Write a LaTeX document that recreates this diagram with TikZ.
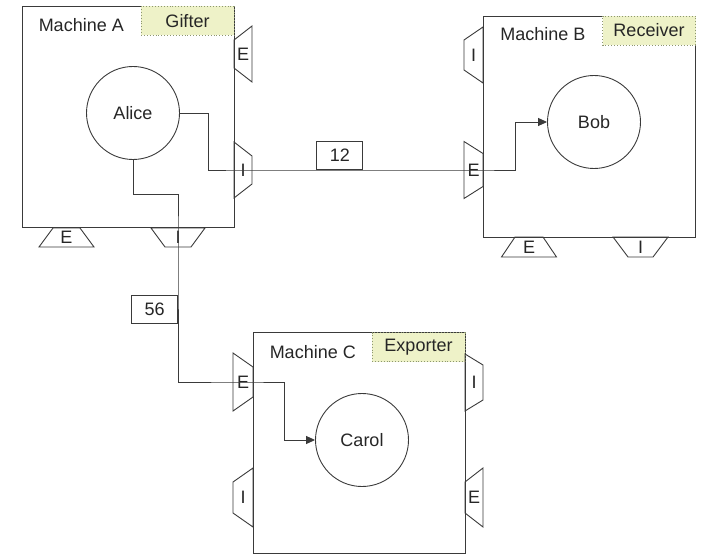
\documentclass[tikz,border=0pt]{standalone}
\usepackage{fontspec}
\setmainfont{Liberation Sans}
\usetikzlibrary{arrows.meta, positioning, calc}
\definecolor{linegray}{HTML}{3A3A3A}
\definecolor{textgray}{HTML}{262626}
\definecolor{rolefill}{HTML}{EEF2C8}
\definecolor{roleedge}{HTML}{8C9670}

% side port: name, point on box edge, depth, half width at box, half width outside, letter
\newcommand{\sideport}[6]{%
  \draw[port] ($#2+(0,-#4)$) -- ++(#3,{#4-#5}) -- ++(0,{2*#5}) -- ++({-(#3)},{#4-#5}) -- cycle;
  \node[portlbl] (#1) at ($#2+(#3/2,0)$) {#6};
}
% bottom port: same arguments, depth goes down
\newcommand{\bottomport}[6]{%
  \draw[port] ($#2+(-#4,0)$) -- ++({#4-#5},#3) -- ++({2*#5},0) -- ++({#4-#5},{-(#3)}) -- cycle;
  \node[portlbl] (#1) at ($#2+(0,#3/2)$) {#6};
}

\begin{document}
\begin{tikzpicture}[
    x=1pt, y=1pt,
    every node/.style={font=\fontsize{18}{21}\selectfont, text=textgray},
    machine/.style={draw=linegray, line width=0.9pt, minimum width=212pt, minimum height=221pt, inner sep=0pt},
    role/.style={draw=roleedge, dotted, line width=0.9pt, fill=rolefill, minimum width=93pt, minimum height=29pt, inner sep=0pt},
    agent/.style={draw=linegray, line width=0.9pt, circle, minimum size=93pt, inner sep=0pt},
    port/.style={draw=linegray, line width=0.9pt},
    portlbl/.style={inner sep=0pt},
    numbox/.style={draw=linegray, line width=0.9pt, fill=white, minimum width=46pt, minimum height=28pt, inner sep=0pt},
    conn/.style={draw=linegray, line width=0.9pt},
    arr/.style={conn, -{Triangle[length=9pt, width=8pt]}},
]
\useasboundingbox (0,0) rectangle (703,555);

\node[machine] (ma) at (128,438) {};
\node[machine] (mb) at (589.5,428.5) {};
\node[machine] (mc) at (359,112) {};

\node[role, below left=0pt of ma.north east] (gifter) {Gifter};
\node[role, below left=0pt of mb.north east] (receiver) {Receiver};
\node[role, below left=0pt of mc.north east] (exporter) {Exporter};

\node[right=17pt of ma.north west, yshift=-19pt, inner sep=0pt] (namea) {Machine A};
\node[right=17pt of mb.north west, yshift=-19pt, inner sep=0pt] (nameb) {Machine B};
\node[right=17pt of mc.north west, yshift=-20pt, inner sep=0pt] (namec) {Machine C};

\node[agent] (alice) at (133,442) {Alice};
\node[agent] (bob) at (594,433) {Bob};
\node[agent] (carol) at (362,115) {Carol};

% ports
\sideport{aE}{(234,501)}{18}{14}{28}{E}
\sideport{aI}{(234,385)}{18}{28}{14}{I}
\bottomport{aEb}{(66.5,327)}{-19}{13.5}{27.5}{E}
\bottomport{aIb}{(178,327)}{-19}{27}{13}{I}
\sideport{bI}{(483,500)}{-19}{28}{15}{I}
\sideport{bE}{(483,385)}{-19}{16.5}{28.5}{E}
\bottomport{bEb}{(529,318)}{-20}{14}{27.5}{E}
\bottomport{bIb}{(640.5,318)}{-20}{27.5}{12.5}{I}
\sideport{cE}{(253,173)}{-20}{15}{29}{E}
\sideport{cI}{(253,57.5)}{-20}{29.5}{15.5}{I}
\sideport{cIr}{(465,172.5)}{18}{28.5}{17.5}{I}
\sideport{cEr}{(465,57.5)}{18}{15.5}{29.5}{E}

% connections
\draw[arr] (alice.east) -- ++(28,0) |- (aI.center)
  -- node[numbox, pos=0.42, anchor=south] (n12) {12} (bE.center)
  -- ++(42,0) |- (bob.west);
\draw[arr] (alice.south) -- ++(0,-35) -| (aIb.center)
  |- node[numbox, pos=0.25, anchor=east] (n56) {56} (cE.center)
  -- ++(41,0) |- (carol.west);

\end{tikzpicture}
\end{document}
